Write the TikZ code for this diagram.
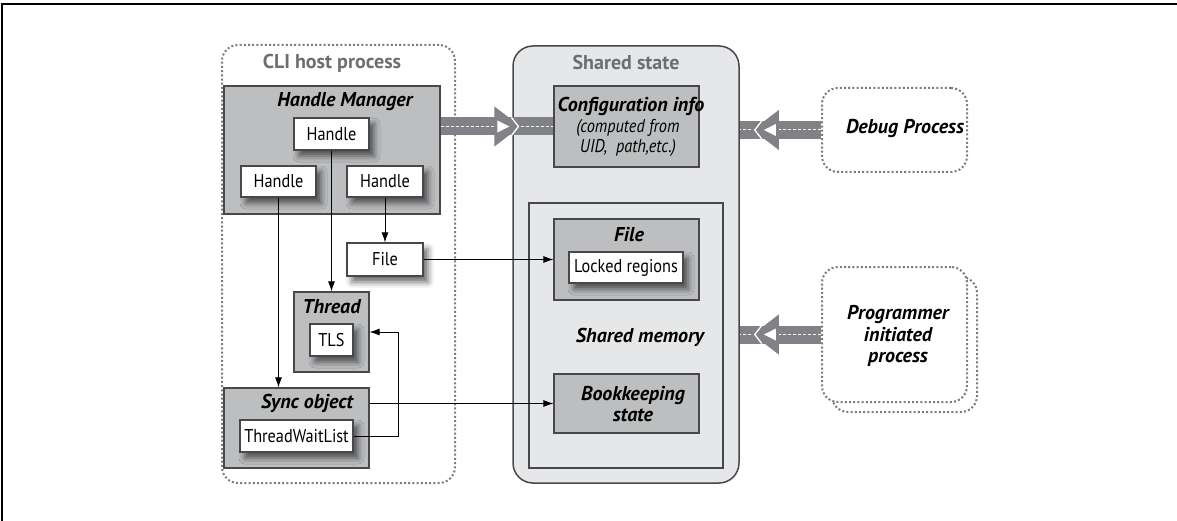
\documentclass[tikz,border=0pt]{standalone}
\usepackage{fontspec}
\setmainfont{PT Sans}[FakeStretch=0.88]
\newfontfamily\titlefont{PT Sans}
\usetikzlibrary{shadows.blur,arrows.meta,calc}

\definecolor{panel}{HTML}{BCBEC0}
\definecolor{pale}{HTML}{E6E7E8}
\definecolor{edge}{HTML}{48484A}
\definecolor{dots}{HTML}{7A7B7E}
\definecolor{band}{HTML}{808285}
\definecolor{caption}{HTML}{6D6E71}

\tikzset{
  box/.style={rectangle, draw=edge, line width=1.1pt, inner sep=0pt},
  greybox/.style={box, fill=panel},
  whitebox/.style={box, fill=white, font=\fontsize{18.5}{20}\selectfont,
    blur shadow={shadow xshift=5pt, shadow yshift=-6pt, shadow blur radius=6pt, shadow opacity=60}},
  title/.style={font=\titlefont\fontsize{20}{21.5}\selectfont\bfseries\itshape, inner sep=0pt},
  note/.style={font=\fontsize{18.5}{20}\selectfont\itshape, inner sep=0pt},
  heading/.style={font=\titlefont\fontsize{20}{22}\selectfont\bfseries, text=caption, inner sep=0pt},
  dotbox/.style={rectangle, draw=dots, line width=2pt, dash pattern=on 2pt off 2.2pt,
    rounded corners=16pt, inner sep=0pt},
  link/.style={draw=black, line width=0.9pt, -{Latex[length=10pt,width=7pt]}},
  fatband/.style={draw=band, line width=18pt},
  fatdash/.style={draw=white, line width=1pt, dash pattern=on 3pt off 2pt},
  fathead/.pic={
    \fill[band] (0,0) -- (-26,-20) -- (-26,20) -- cycle;
    \fill[white] (-23,-6) -- (-11,0) -- (-23,6) -- cycle;
    \draw[white, line width=1.3pt] (-9,-9) -- (-2,0) -- (-9,9);
  },
}

\begin{document}
\begin{tikzpicture}[x=1pt, y=-1pt]
\useasboundingbox (0,0) rectangle (1177,521);

% page frame
\draw[line width=2.4pt] (2,521) -- (2,4) -- (1177,4);

% containers
\node[dotbox, minimum width=233pt, minimum height=438pt] (cli) at (338.5,264) {};
\node[heading] (clititle) at (332,63) {CLI host process};

\node[rectangle, fill=pale, draw=edge, line width=1.5pt, rounded corners=20pt,
      minimum width=226pt, minimum height=437pt, inner sep=0pt] (ss) at (626,264.5) {};
\node[heading] (sstitle) at (626,63) {Shared state};

\node[box, fill=pale, minimum width=194pt, minimum height=265pt] (mem) at (626,335.5) {};
\node[title] (memtitle) at (640,337) {Shared memory};

% external processes
\node[dotbox, minimum width=145pt, minimum height=84pt] (dbg) at (894.5,130) {};
\node[title] (dbgtitle) at (905,129) {Debug Process};

\node[dotbox, minimum width=145pt, minimum height=135pt] (progback) at (904.5,344.5) {};
\node[dotbox, fill=white, minimum width=145pt, minimum height=135pt] (prog) at (894.5,334.5) {};
\node[title, align=center] (progtitle) at (898,336) {Programmer\\initiated\\process};

% grey boxes
\node[greybox, minimum width=216pt, minimum height=128pt] (hm) at (332,150) {};
\node[greybox, minimum width=145pt, minimum height=81pt] (cfg) at (626.5,126.5) {};
\node[greybox, minimum width=145pt, minimum height=81pt] (sfile) at (626.5,259.5) {};
\node[greybox, minimum width=145pt, minimum height=59pt] (book) at (626.5,403.5) {};
\node[greybox, minimum width=75pt, minimum height=80pt] (thread) at (331.5,332) {};
\node[greybox, minimum width=145pt, minimum height=80pt] (sync) at (296.5,428) {};

% wide data paths
\draw[fatband] (hm.east |- cfg.west) -- (cfg.west);
\draw[fatdash] (hm.east |- cfg.west) -- (cfg.west);
\pic at ($(cfg.west)+(-33,0)$) {fathead};

\draw[fatband] (dbg.west) -- (ss.east |- dbg.west);
\draw[fatdash] (dbg.west) -- (ss.east |- dbg.west);
\pic[rotate=180] at ($(ss.east |- dbg.west)+(13,0)$) {fathead};

\draw[fatband] (prog.west) -- (ss.east |- prog.west);
\draw[fatdash] (prog.west) -- (ss.east |- prog.west);
\pic[rotate=180] at ($(ss.east |- prog.west)+(13,0)$) {fathead};

% box titles
\node[title] (hmtitle) at (345,102) {Handle Manager};
\node[title] (cfgtitle) at (631,106) {Configuration info};
\node[note, align=center] (cfgnote) at (628,138) {(computed from\\UID,\ \ path,etc.)};
\node[title] (sfiletitle) at (629,235) {File};
\node[title, align=center] (booktitle) at (633,404) {Bookkeeping\\state};
\node[title] (threadtitle) at (331.5,307) {Thread};
\node[title] (synctitle) at (307,403) {Sync object};

% white boxes
\node[whitebox, minimum width=75pt, minimum height=32pt] (h1) at (331.5,134) {Handle};
\node[whitebox, minimum width=75pt, minimum height=31pt] (h2) at (278.5,181.5) {Handle};
\node[whitebox, minimum width=76pt, minimum height=31pt] (h3) at (385,181.5) {Handle};
\node[whitebox, minimum width=76pt, minimum height=33pt] (file) at (385,259.5) {File};
\node[whitebox, minimum width=43pt, minimum height=32pt] (tls) at (331.5,340) {TLS};
\node[whitebox, minimum width=113pt, minimum height=32pt] (twl) at (296.5,436) {ThreadWaitList};
\node[whitebox, minimum width=114pt, minimum height=31pt] (lock) at (626,267.5) {Locked regions};

% connectors
\draw[link] (h2.south) -- (h2.south |- sync.north);
\draw[link] (h1.south) -- (thread.north);
\draw[link] (h3.south) -- (file.north);
\draw[link] (file.east) -- (sfile.west);
\draw[link] (sync.east |- book.west) -- (book.west);
\draw[link] (twl.east) -- ++(45,0) |- (thread.east);
\end{tikzpicture}
\end{document}
